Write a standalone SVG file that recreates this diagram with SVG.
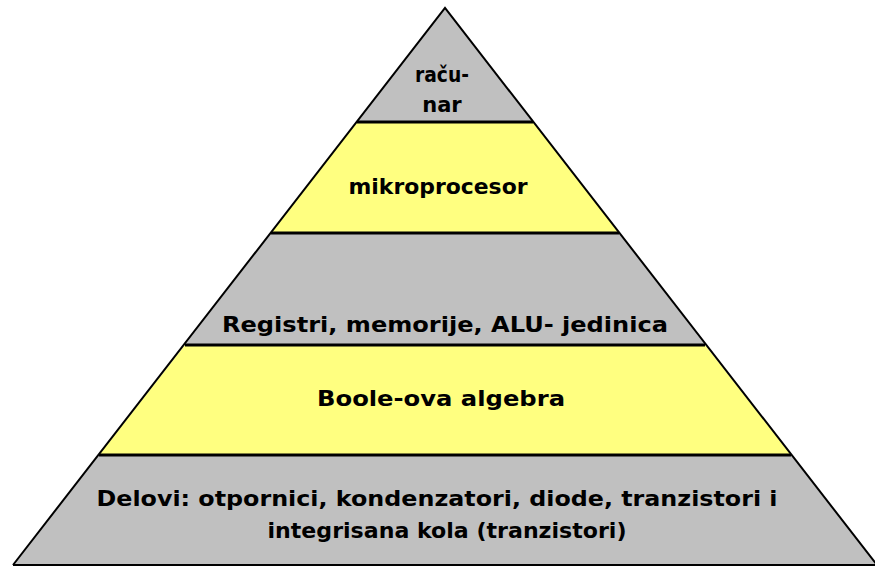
<svg xmlns="http://www.w3.org/2000/svg" width="875" height="567" viewBox="0 0 875 567">
<style>
.g{fill:#C0C0C0}
.y{fill:#FFFF80}
.edge{stroke:#000;stroke-width:2;fill:none}
.sep{stroke:#000;stroke-width:3}
text{font-family:"DejaVu Sans","Verdana",sans-serif;font-weight:bold;font-size:21px;fill:#000;text-anchor:middle}
</style>
<rect width="875" height="567" fill="#fff"/>
<g id="level1">
<polygon class="g" points="445,8 357,122 533,122"/>
<text x="442" y="82" textLength="54" lengthAdjust="spacingAndGlyphs">raču-</text>
<text x="442" y="112">nar</text>
</g>
<g id="level2">
<polygon class="y" points="357,122 533,122 619,233 271,233"/>
<text x="438" y="194" textLength="179" lengthAdjust="spacingAndGlyphs">mikroprocesor</text>
</g>
<g id="level3">
<polygon class="g" points="271,233 619,233 705,345 185,345"/>
<text x="445" y="332" textLength="446" lengthAdjust="spacingAndGlyphs">Registri, memorije, ALU- jedinica</text>
</g>
<g id="level4">
<polygon class="y" points="185,345 705,345 791,455 99,455"/>
<text x="441" y="406" textLength="248" lengthAdjust="spacingAndGlyphs">Boole-ova algebra</text>
</g>
<g id="level5">
<polygon class="g" points="99,455 791,455 877,565 13,565"/>
<text x="437" y="506" textLength="681" lengthAdjust="spacingAndGlyphs">Delovi: otpornici, kondenzatori, diode, tranzistori i</text>
<text x="447" y="538" textLength="359" lengthAdjust="spacingAndGlyphs">integrisana kola (tranzistori)</text>
</g>
<g id="connectors">
<polyline class="edge" points="13,565 445,8 877,565"/>
<line class="edge" x1="13" y1="565" x2="875" y2="565"/>
<line class="sep" x1="357" y1="122" x2="533" y2="122"/>
<line class="sep" x1="271" y1="233" x2="619" y2="233"/>
<line class="sep" x1="185" y1="345" x2="705" y2="345"/>
<line class="sep" x1="99" y1="455" x2="791" y2="455"/>
</g>
</svg>
